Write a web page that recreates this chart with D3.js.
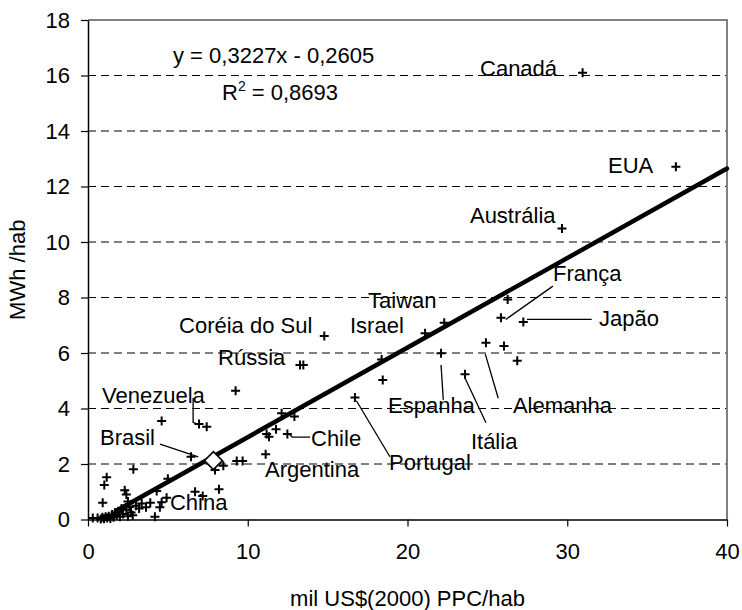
<!DOCTYPE html>
<html><head><meta charset="utf-8">
<script src="https://cdn.jsdelivr.net/npm/d3@7"></script>
<style>
body{margin:0;background:#fff;}
text{font-family:"Liberation Sans",Arial,sans-serif;fill:#000;}
</style></head>
<body><svg id="c" width="742" height="610"></svg>
<script>
// ---- data ----
const xTicks = [0, 10, 20, 30, 40];
const yTicks = [0, 2, 4, 6, 8, 10, 12, 14, 16, 18];
const gridValues = [2, 4, 6, 8, 10, 12, 14, 16];
const xTitle = "mil US$(2000) PPC/hab";
const yTitle = "MWh /hab";
const trendSlope = 0.3227;
const trendIntercept = -0.2605;
const trendRange = [1.75, 40];
const eqText = "y = 0,3227x - 0,2605";
const r2Text = "0,8693";

// countries: [gdp, electricity]
const pointsX = [30.96, 36.8, 29.67, 25.85, 26.27, 27.25, 24.91, 26.04, 26.87, 22.1, 23.6, 18.45, 18.38, 21.1, 22.3,
  14.79, 13.27, 13.48, 16.71, 12.12, 12.92, 11.77, 11.18, 11.33, 12.48, 11.12, 9.31, 9.68, 7.95, 8.47, 8.2, 9.24,
  6.95, 7.43, 4.61, 6.45, 2.84, 1.17, 1.02, 5.0, 2.3, 2.4, 2.5, 0.92, 4.3, 6.7, 7.18, 4.92, 4.61, 4.5, 4.19, 3.63, 3.36,
  0.3, 0.6, 0.8, 0.9, 1.0, 1.1, 1.2, 1.3, 1.4, 1.5, 1.6, 1.7, 1.8, 1.9, 2.0, 2.1, 2.2, 2.4, 2.5, 2.6, 2.7, 2.8, 3.0, 3.2, 3.9];
const pointsY = [16.1, 12.71, 10.49, 7.27, 7.93, 7.12, 6.37, 6.25, 5.72, 5.99, 5.23, 5.03, 5.77, 6.71, 7.09,
  6.61, 5.57, 5.57, 4.40, 3.83, 3.71, 3.25, 3.08, 2.98, 3.08, 2.35, 2.11, 2.11, 1.78, 1.94, 1.09, 4.64,
  3.44, 3.34, 3.55, 2.26, 1.81, 1.52, 1.24, 1.47, 1.05, 0.9, 0.65, 0.6, 1.03, 1.0, 0.85, 0.78, 0.62, 0.44, 0.1, 0.44, 0.58,
  0.05, 0.05, 0.02, 0.08, 0.03, 0.1, 0.05, 0.12, 0.04, 0.18, 0.08, 0.25, 0.15, 0.3, 0.1, 0.4, 0.2, 0.35, 0.12, 0.45, 0.25, 0.15, 0.5, 0.4, 0.6];

const brasilDiamond = [7.85, 2.12];

const labelNames = ["Canadá", "EUA", "Austrália", "França", "Japão", "Alemanha", "Espanha", "Itália", "Portugal",
  "Argentina", "Chile", "China", "Brasil", "Venezuela", "Rússia", "Coréia do Sul", "Israel", "Taiwan"];
const labelX = [24.54, 32.55, 23.91, 29.11, 31.99, 26.6, 18.78, 23.97, 18.84, 11.08, 13.96, 5.13, 0.75, 0.88, 8.14, 5.7, 16.4, 17.53];
const labelY = [16.27, 12.77, 10.97, 8.88, 7.26, 4.13, 4.13, 2.83, 2.07, 1.82, 2.94, 0.63, 2.97, 4.49, 5.86, 7.01, 7.01, 7.91];

// leader lines as polylines in data units
const leaders = [
  [[4.51, 2.72], [6.9, 2.26]],                 // Brasil
  [[6.58, 4.38], [6.58, 3.5], [6.85, 3.44]],   // Venezuela
  [[12.62, 3.06], [12.78, 2.97], [13.9, 2.97]],// Chile
  [[16.8, 4.28], [18.9, 2.26]],                // Portugal
  [[22.1, 5.57], [22.24, 4.31]],               // Espanha
  [[23.6, 5.1], [24.91, 3.49]],                // Itália
  [[24.87, 5.96], [25.68, 4.37]],              // Alemanha
  [[29.1, 8.41], [26.15, 7.21]],               // França
  [[27.48, 7.21], [31.53, 7.21]]               // Japão
];

// ---- chart ----
const svg = d3.select("#c");
const x = d3.scaleLinear().domain([0, 40]).range([88, 727]);
const y = d3.scaleLinear().domain([0, 18]).range([519.5, 20]);
const FS = 22;

// grid
svg.append("g").selectAll("line").data(gridValues).join("line")
  .attr("x1", x(0)).attr("x2", x(40)).attr("y1", d => y(d)).attr("y2", d => y(d))
  .attr("stroke", "#000").attr("stroke-width", 1).attr("stroke-dasharray", "8,5");

// frame top/right
svg.append("path").attr("d", `M${x(0)},${y(18)}H${x(40)}V${y(0)}`)
  .attr("fill", "none").attr("stroke", "#808080").attr("stroke-width", 2);

// axes
const yAxis = d3.axisLeft(y).tickValues(yTicks).tickSize(7).tickSizeOuter(0).tickPadding(11).tickFormat(d3.format("d"));
const gy = svg.append("g").attr("transform", `translate(${x(0)},0)`).call(yAxis);
const xAxis = d3.axisBottom(x).tickValues(xTicks).tickSize(7).tickSizeOuter(0).tickPadding(17).tickFormat(d3.format("d"));
const gx = svg.append("g").attr("transform", `translate(0,${y(0)})`).call(xAxis);
[gx, gy].forEach(g => {
  g.select(".domain").attr("stroke", "#000").attr("stroke-width", 1.5);
  g.selectAll(".tick line").attr("stroke", "#000").attr("stroke-width", 1.2);
  g.selectAll(".tick text").attr("font-size", FS).attr("font-family", '"Liberation Sans",Arial,sans-serif').attr("fill", "#000");
});

// trend line
svg.append("line")
  .attr("x1", x(trendRange[0])).attr("y1", y(trendSlope * trendRange[0] + trendIntercept))
  .attr("x2", x(trendRange[1])).attr("y2", y(trendSlope * trendRange[1] + trendIntercept))
  .attr("stroke", "#000").attr("stroke-width", 4.5).attr("stroke-linecap", "round");

// leaders
const lineGen = d3.line().x(d => x(d[0])).y(d => y(d[1]));
svg.append("g").selectAll("path").data(leaders).join("path")
  .attr("d", lineGen).attr("fill", "none").attr("stroke", "#000").attr("stroke-width", 1.3);

// points
const pts = pointsX.map((v, i) => [v, pointsY[i]]);
svg.append("g").selectAll("path").data(pts).join("path")
  .attr("transform", d => `translate(${x(d[0])},${y(d[1])})`)
  .attr("d", "M-4.5,0H4.5M0,-4.5V4.5").attr("stroke", "#000").attr("stroke-width", 2).attr("fill", "none");

// diamond
svg.append("path")
  .attr("transform", `translate(${x(brasilDiamond[0])},${y(brasilDiamond[1])})`)
  .attr("d", "M0,-9L9,0L0,9L-9,0Z").attr("fill", "#fff").attr("stroke", "#000").attr("stroke-width", 1.6);

// labels
svg.append("g").selectAll("text").data(labelNames).join("text")
  .attr("x", (d, i) => x(labelX[i])).attr("y", (d, i) => y(labelY[i]))
  .attr("dy", "0.36em").attr("font-size", FS).text(d => d);

// equation
svg.append("text").attr("x", 173).attr("y", 63).attr("font-size", FS).text(eqText);
const r2 = svg.append("text").attr("x", 222).attr("y", 100).attr("font-size", FS);
r2.append("tspan").text("R");
r2.append("tspan").attr("font-size", 14).attr("dy", -9).text("2");
r2.append("tspan").attr("dy", 9).text(" = " + r2Text);

// titles
svg.append("text").attr("x", (x(0) + x(40)) / 2).attr("y", 606).attr("text-anchor", "middle").attr("font-size", FS).text(xTitle);
svg.append("text").attr("transform", `translate(25,${(y(0) + y(18)) / 2}) rotate(-90)`)
  .attr("text-anchor", "middle").attr("font-size", FS).text(yTitle);
</script></body></html>
